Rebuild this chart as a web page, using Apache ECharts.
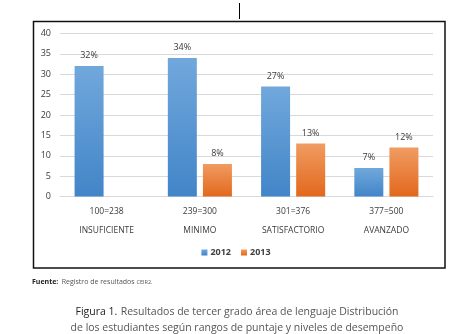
<!DOCTYPE html>
<html>
<head>
<meta charset="utf-8">
<script src="https://cdn.jsdelivr.net/npm/echarts@6/dist/echarts.min.js"></script>
<style>
html,body{margin:0;padding:0;background:#fff;}
#c{width:472px;height:334px;}
</style>
</head>
<body>
<div id="c"></div>
<script>
var rangos = ['100=238', '239=300', '301=376', '377=500'];
var niveles = ['INSUFICIENTE', 'MINIMO', 'SATISFACTORIO', 'AVANZADO'];
var serie2012 = [32, 34, 27, 7];
var serie2013 = [null, 8, 13, 12];
var yTicks = [0, 40, 5];

var categories = rangos.map(function (r, i) { return r + '\n' + niveles[i]; });

function grad(top, bottom) {
  return new echarts.graphic.LinearGradient(0, 0, 0, 1, [
    { offset: 0, color: top }, { offset: 1, color: bottom }
  ]);
}

var chart = echarts.init(document.getElementById('c'), null, { renderer: 'canvas' });
var labelStyle = {
  show: true, position: 'top', distance: 6, color: '#3a3a3a',
  fontSize: 9, fontFamily: 'Open Sans',
  formatter: function (p) { return p.value == null ? '' : p.value + '%'; }
};
chart.setOption({
  animation: false,
  backgroundColor: '#fff',
  grid: { left: 60, right: 39, top: 33.5, bottom: 137.5 },
  legend: {
    top: 243, left: 'center',
    itemWidth: 6, itemHeight: 6, itemGap: 10,
    icon: 'rect',
    textStyle: { color: '#404040', fontSize: 9, fontWeight: 'bold', fontFamily: 'Open Sans', padding: [0, 0, 0, -2] },
    data: ['2012', '2013']
  },
  xAxis: {
    type: 'category', data: categories,
    axisLine: { lineStyle: { color: '#d9d9d9' } },
    axisTick: { length: 41, lineStyle: { color: '#d9d9d9' } },
    axisLabel: { color: '#3a3a3a', fontSize: 8.5, fontFamily: 'Open Sans', lineHeight: 19, margin: 6 }
  },
  yAxis: {
    type: 'value', min: yTicks[0], max: yTicks[1], interval: yTicks[2],
    axisLine: { show: false }, axisTick: { show: false },
    splitLine: { lineStyle: { color: '#d9d9d9' } },
    axisLabel: { color: '#3a3a3a', fontSize: 9, fontFamily: 'Open Sans', margin: 9 }
  },
  series: [
    { name: '2012', type: 'bar', data: serie2012, barWidth: 29, barGap: '21%',
      itemStyle: { color: grad('#71a8dc', '#4285c8') }, label: labelStyle },
    { name: '2013', type: 'bar', data: serie2013, barWidth: 29,
      itemStyle: { color: grad('#f09c62', '#e2681d') }, label: labelStyle }
  ],
  graphic: [
    { type: 'line', shape: { x1: 239.5, y1: 3, x2: 239.5, y2: 19 }, style: { stroke: '#000', lineWidth: 1 } },
    { type: 'rect', shape: { x: 33.5, y: 21.5, width: 411.5, height: 246.5 }, style: { fill: 'none', stroke: '#111', lineWidth: 1.5 } },
    { type: 'text', x: 32, y: 276, style: {
        text: '{b|Fuente:} {n|Registro de resultados }{s|CEIR2.}',
        rich: {
          b: { fontSize: 7, fontFamily: 'Open Sans', fill: '#222', fontWeight: 'bold' },
          n: { fontSize: 7, fontFamily: 'Open Sans', fill: '#555' },
          s: { fontSize: 5.5, fontFamily: 'Open Sans', fill: '#555' }
        } } },
    { type: 'text', x: 237, y: 304, style: {
        text: '{b|Figura 1.} {n|Resultados de tercer grado área de lenguaje Distribución}\n{n|de los estudiantes según rangos de puntaje y niveles de desempeño}',
        align: 'center', lineHeight: 16,
        rich: {
          b: { fontSize: 10.5, fontFamily: 'Open Sans', fill: '#222', lineHeight: 16 },
          n: { fontSize: 10.5, fontFamily: 'Open Sans', fill: '#555', lineHeight: 16 }
        } } }
  ]
});
</script>
</body>
</html>
